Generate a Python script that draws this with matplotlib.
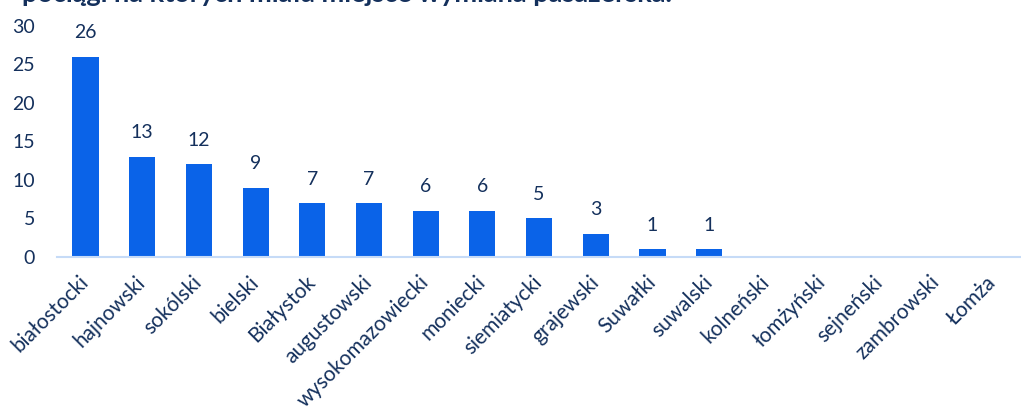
import matplotlib.pyplot as plt

plt.rcParams['font.family'] = ['Lato', 'DejaVu Sans']

powiaty = ['białostocki', 'hajnowski', 'sokólski', 'bielski', 'Białystok',
           'augustowski', 'wysokomazowiecki', 'moniecki', 'siemiatycki',
           'grajewski', 'Suwałki', 'suwalski', 'kolneński', 'łomżyński',
           'sejneński', 'zambrowski', 'Łomża']
liczba = [26, 13, 12, 9, 7, 7, 6, 6, 5, 3, 1, 1, 0, 0, 0, 0, 0]

navy = '#14305c'
blue = '#0a63e8'

fig = plt.figure(figsize=(10.21, 4.09), dpi=100)
ax = fig.add_axes([0.056, 0.372, 0.944, 0.565])

x = range(len(powiaty))
ax.bar(x, liczba, width=0.46, color=blue)
for xi, v in zip(x, liczba):
    if v > 0:
        ax.annotate(str(v), (xi, v), xytext=(0, 11), textcoords='offset points',
                    ha='center', va='bottom', fontsize=14, color=navy)

ax.set_xlim(-0.5, len(powiaty) - 0.5)
ax.set_ylim(0, 30)
ax.set_yticks(range(0, 31, 5))
ax.set_xticks(list(x))
ax.set_xticklabels(powiaty, rotation=45, ha='right', va='center',
                   rotation_mode='anchor')
ax.tick_params(axis='both', length=0, labelsize=14, labelcolor=navy)
ax.tick_params(axis='x', labelsize=15, pad=16)
ax.tick_params(axis='y', pad=16)

for s in ['top', 'right', 'left']:
    ax.spines[s].set_visible(False)
ax.spines['bottom'].set_color('#c6dbf7')
ax.spines['bottom'].set_linewidth(1.5)

fig.text(0.022, 1 - 2.5 / 409, 'pociągi na których miała miejsce wymiana pasażerska.',
         fontsize=19.5, fontweight='bold', color=navy, ha='left', va='baseline')

fig.savefig('out.png', dpi=100)
